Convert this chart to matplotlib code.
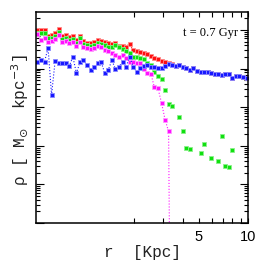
import numpy as np
import matplotlib
matplotlib.use('Agg')
import matplotlib.pyplot as plt
from matplotlib.ticker import FixedLocator, FixedFormatter, NullFormatter, LogLocator

nan = float('nan')

# radial bins (kpc)
r_kpc = [0.510, 0.536, 0.564, 0.593, 0.623, 0.655, 0.689, 0.724, 0.762, 0.801,
         0.842, 0.885, 0.931, 0.978, 1.029, 1.082, 1.137, 1.195, 1.257, 1.322,
         1.389, 1.461, 1.536, 1.615, 1.698, 1.785, 1.877, 1.973, 2.074, 2.181,
         2.293, 2.411, 2.535, 2.665, 2.802, 2.946, 3.097, 3.256, 3.423, 3.599,
         3.784, 3.978, 4.183, 4.398, 4.624, 4.861, 5.111, 5.373, 5.649, 5.939,
         6.245, 6.565, 6.903, 7.257, 7.630, 8.022, 8.434, 8.867, 9.323, 9.802]

# log10 density [Msun kpc^-3]
log_rho_red = [9.00, 9.00, 9.00, 8.85, 8.87, 8.92, 9.02, 8.83, 8.87, 8.81,
               8.85, 8.73, 8.85, 8.72, 8.67, 8.66, 8.69, 8.74, 8.71, 8.68,
               8.65, 8.64, 8.65, 8.59, 8.59, 8.57, 8.64, 8.48, 8.45, 8.43,
               8.41, 8.37, 8.32, 8.28, 8.25, 8.19, 8.16, 8.14, 8.12, 8.06,
               8.09, 8.05, 8.01, 7.96, 8.01, 7.93, 7.92, 7.91, 7.90, 7.88,
               7.87, 7.85, 7.83, 7.87, 7.87, 7.76, 7.81, 7.81, 7.79, 7.76]

log_rho_green = [8.92, 8.93, 8.91, 8.78, 8.80, 8.84, 8.95, 8.76, 8.79, 8.74,
                 8.77, 8.66, 8.78, 8.64, 8.60, 8.58, 8.61, 8.67, 8.63, 8.60,
                 8.57, 8.56, 8.60, 8.56, 8.51, 8.46, 8.41, 8.30, 8.30, 8.27,
                 8.24, 8.15, 8.10, 7.92, 7.81, 7.72, 7.45, 7.09, 7.04, nan,
                 6.75, 6.38, 5.95, 5.91, nan, nan, 5.80, 6.05, nan, 5.68,
                 nan, 5.60, 6.24, 5.48, 5.44, 5.88, nan, nan, nan, nan]

log_rho_magenta = [8.90, 8.74, 8.79, 8.69, 8.72, 8.77, 8.87, 8.69, 8.72, 8.66,
                   8.69, 8.59, 8.69, 8.56, 8.54, 8.51, 8.54, 8.59, 8.56, 8.48,
                   8.45, 8.41, 8.36, 8.30, 8.34, 8.27, 8.16, 8.16, 8.15, 8.14,
                   8.00, 7.89, 7.87, 7.51, 7.49, 7.11, 6.68, 6.37, -5.0, nan,
                   nan, nan, nan, nan, nan, nan, nan, nan, nan, nan,
                   nan, nan, nan, nan, nan, nan, nan, nan, nan, nan]

log_rho_blue = [8.18, 8.23, 8.18, 8.53, 7.32, 8.19, 8.14, 8.15, 8.15, 8.07,
                8.30, 7.88, 8.16, 8.21, 8.10, 7.97, 8.04, 8.14, 8.16, 7.88,
                7.97, 8.21, 7.99, 8.04, 8.18, 8.04, 8.31, 8.05, 7.90, 8.01,
                8.07, 8.10, 8.04, 8.03, 8.01, 8.02, 8.07, 8.12, 8.10, 8.06,
                8.09, 8.05, 8.01, 7.96, 8.01, 7.93, 7.92, 7.91, 7.90, 7.88,
                7.87, 7.85, 7.83, 7.87, 7.87, 7.76, 7.81, 7.81, 7.79, 7.76]

series = [
    (log_rho_red, '#ff1010', '#ff8a8a', ':'),
    (log_rho_green, '#10e010', '#8af08a', 'none'),
    (log_rho_magenta, '#ff10ff', '#ff9aff', ':'),
    (log_rho_blue, '#1818ff', '#8a8aff', ':'),
]

fig = plt.figure(figsize=(2.62, 2.71), dpi=100)
ax = fig.add_axes([36/262, 1-223/271, 212/262, 211/271])
ax.set_xscale('log')
ax.set_yscale('log')

r = np.array(r_kpc)
for vals, c, ec, ls in series:
    rho = 10 ** np.array(vals, dtype=float)
    ax.plot(r, rho, ls=ls, lw=0.8, color=c, marker='s', ms=3.2,
            mfc=c, mec=ec, mew=0.6)

ax.set_xlim(0.5, 10)
ax.set_ylim(1e4, 10**9.464)

ax.xaxis.set_major_locator(FixedLocator([5, 10]))
ax.xaxis.set_major_formatter(FixedFormatter(['5', '10']))
ax.xaxis.set_minor_locator(FixedLocator([2, 3, 4, 6, 7, 8, 9]))
ax.xaxis.set_minor_formatter(NullFormatter())
ax.yaxis.set_major_locator(LogLocator(base=10, numticks=20))
ax.yaxis.set_minor_locator(LogLocator(base=10, subs=(2, 3, 4, 5, 6, 7, 8, 9), numticks=20))
ax.yaxis.set_major_formatter(NullFormatter())
ax.yaxis.set_minor_formatter(NullFormatter())

ax.tick_params(which='both', direction='in', top=True, right=True, width=0.8)
ax.tick_params(axis='x', which='both', length=3.5, pad=5)
ax.tick_params(axis='y', which='major', length=6)
ax.tick_params(axis='y', which='minor', length=3)
for lab in ax.get_xticklabels():
    lab.set_family('Liberation Sans')
    lab.set_fontsize(10.5)

for s in ax.spines.values():
    s.set_linewidth(1.1)

ax.text(0.953, 0.90, 't = 0.7 Gyr', transform=ax.transAxes, ha='right', va='center',
        family='Liberation Serif', fontsize=9)

fig.text(142/262, 1-253/271, 'r  [Kpc]', ha='center', va='center', color='#222222',
         family=['Liberation Mono', 'DejaVu Sans'], fontsize=11.5)
fig.text(20/262, 1-120/271, 'ρ [ M$_{\\odot}$  kpc$^{-3}$]', rotation=90, color='#222222',
         ha='center', va='center', family=['Liberation Mono', 'DejaVu Sans'], fontsize=11.5)

fig.savefig('out.png', dpi=100)
